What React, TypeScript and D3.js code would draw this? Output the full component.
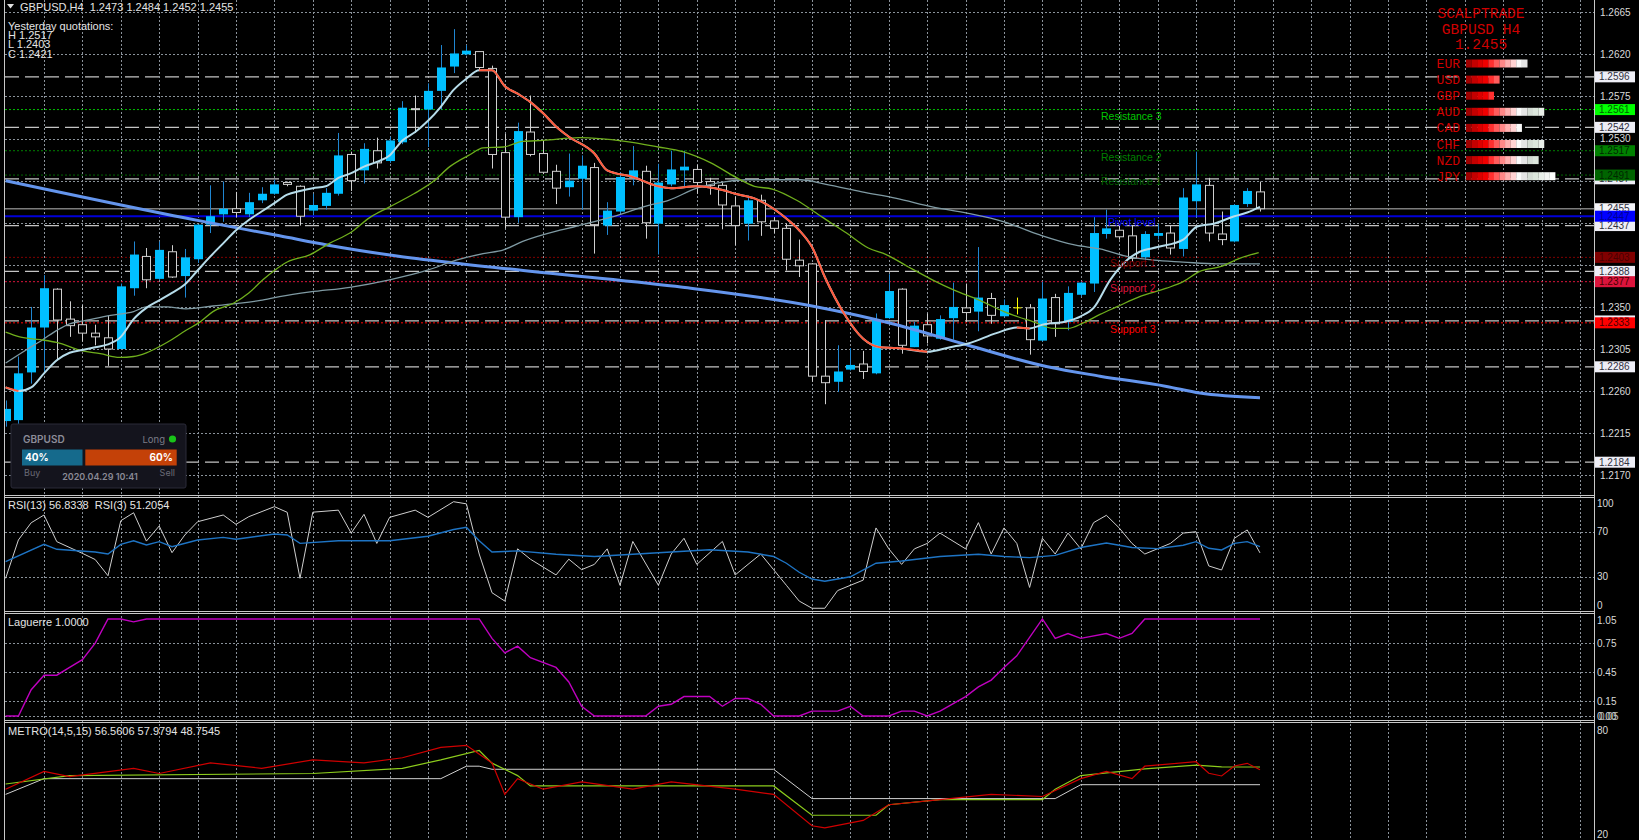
import * as d3 from "d3";

const W = 1639;
const H = 840;

// GBPUSD H4 candles, oldest first
const opens = [1.2228,1.2229,1.2280,1.2328,1.2369,1.2337,1.2331,1.2322,1.2317,1.2305,1.2370,1.2404,1.2380,1.2409,1.2383,1.2401,1.2438,1.2449,1.2455,1.2449,1.2464,1.2471,1.2483,1.2479,1.2453,1.2458,1.2471,1.2513,1.2496,1.2517,1.2506,1.2526,1.2562,1.2561,1.2581,1.2607,1.2620,1.2623,1.2605,1.2515,1.2446,1.2537,1.2514,1.2495,1.2478,1.2487,1.2499,1.2437,1.2452,1.2488,1.2495,1.2439,1.2481,1.2496,1.2497,1.2484,1.2480,1.2458,1.2439,1.2464,1.2442,1.2434,1.2400,1.2396,1.2276,1.2270,1.2283,1.2289,1.2279,1.2338,1.2369,1.2307,1.2331,1.2316,1.2338,1.2349,1.2345,1.2359,1.2340,1.2349,1.2349,1.2314,1.2360,1.2334,1.2363,1.2375,1.2428,1.2432,1.2426,1.2403,1.2426,1.2429,1.2412,1.2463,1.2480,1.2428,1.2420,1.2460,1.2473];
const highs = [1.2250,1.2297,1.2350,1.2384,1.2370,1.2356,1.2352,1.2331,1.2341,1.2375,1.2420,1.2413,1.2420,1.2416,1.2412,1.2438,1.2480,1.2484,1.2473,1.2472,1.2478,1.2486,1.2484,1.2480,1.2471,1.2477,1.2536,1.2516,1.2525,1.2531,1.2532,1.2570,1.2576,1.2589,1.2630,1.2647,1.2630,1.2623,1.2608,1.2535,1.2547,1.2576,1.2528,1.2502,1.2514,1.2512,1.2504,1.2462,1.2494,1.2522,1.2501,1.2503,1.2517,1.2517,1.2502,1.2488,1.2483,1.2468,1.2469,1.2470,1.2446,1.2439,1.2422,1.2397,1.2336,1.2309,1.2306,1.2303,1.2343,1.2385,1.2370,1.2334,1.2343,1.2341,1.2376,1.2375,1.2414,1.2365,1.2358,1.2360,1.2353,1.2377,1.2364,1.2372,1.2377,1.2446,1.2454,1.2437,1.2437,1.2431,1.2439,1.2437,1.2477,1.2516,1.2488,1.2452,1.2460,1.2477,1.2484];
const lows = [1.2222,1.2224,1.2268,1.2279,1.2293,1.2318,1.2313,1.2309,1.2287,1.2305,1.2362,1.2370,1.2379,1.2381,1.2360,1.2397,1.2429,1.2441,1.2446,1.2446,1.2461,1.2470,1.2479,1.2437,1.2448,1.2454,1.2469,1.2474,1.2482,1.2498,1.2504,1.2524,1.2536,1.2521,1.2561,1.2600,1.2619,1.2603,1.2498,1.2434,1.2440,1.2511,1.2492,1.2460,1.2468,1.2454,1.2407,1.2427,1.2450,1.2480,1.2423,1.2406,1.2479,1.2479,1.2471,1.2470,1.2433,1.2416,1.2421,1.2426,1.2429,1.2389,1.2382,1.2270,1.2246,1.2259,1.2282,1.2273,1.2278,1.2337,1.2300,1.2307,1.2311,1.2315,1.2315,1.2334,1.2324,1.2332,1.2340,1.2342,1.2299,1.2313,1.2318,1.2325,1.2361,1.2366,1.2423,1.2422,1.2398,1.2400,1.2422,1.2406,1.2404,1.2446,1.2420,1.2416,1.2419,1.2457,1.2452];
const closes = [1.2241,1.2279,1.2328,1.2370,1.2336,1.2330,1.2322,1.2318,1.2305,1.2372,1.2406,1.2379,1.2411,1.2382,1.2403,1.2438,1.2447,1.2455,1.2451,1.2462,1.2471,1.2481,1.2481,1.2447,1.2459,1.2472,1.2512,1.2485,1.2519,1.2504,1.2528,1.2563,1.2561,1.2581,1.2606,1.2621,1.2624,1.2606,1.2513,1.2446,1.2538,1.2513,1.2494,1.2477,1.2485,1.2501,1.2438,1.2453,1.2489,1.2496,1.2440,1.2483,1.2497,1.2500,1.2483,1.2480,1.2459,1.2437,1.2464,1.2441,1.2434,1.2401,1.2394,1.2276,1.2269,1.2281,1.2288,1.2281,1.2336,1.2367,1.2309,1.2330,1.2319,1.2337,1.2350,1.2344,1.2360,1.2341,1.2352,1.2349,1.2315,1.2359,1.2332,1.2365,1.2376,1.2429,1.2434,1.2425,1.2402,1.2428,1.2429,1.2413,1.2467,1.2481,1.2429,1.2422,1.2459,1.2474,1.2455];

// moving averages, [bar, price]
const fastMa = [[0,1.2264],[1,1.2260],[2,1.2264],[3,1.2279],[4,1.2293],[5,1.2301],[6,1.2304],[7,1.2307],[8,1.2310],[9,1.2318],[10,1.2337],[11,1.2349],[12,1.2357],[13,1.2365],[14,1.2374],[15,1.2389],[16,1.2404],[17,1.2418],[18,1.2432],[19,1.2443],[20,1.2452],[21,1.2461],[22,1.2470],[23,1.2474],[24,1.2477],[25,1.2479],[26,1.2488],[27,1.2493],[28,1.2500],[29,1.2505],[30,1.2512],[31,1.2528],[32,1.2537],[33,1.2549],[34,1.2564],[35,1.2582],[36,1.2594],[37,1.2603],[38,1.2603],[39,1.2586],[40,1.2578],[41,1.2569],[42,1.2557],[43,1.2543],[44,1.2532],[46,1.2514],[47,1.2496],[49,1.2489],[51,1.2479],[52,1.2477],[54,1.2479],[56,1.2475],[57,1.2471],[58.5,1.2466],[60,1.2455],[61.3,1.2441],[62,1.2432],[63,1.2414],[64,1.2382],[65.5,1.2343],[67,1.2316],[68.3,1.2307],[69.6,1.2306],[72,1.2302],[73.8,1.2307],[75.2,1.2311],[77.4,1.2322],[79,1.2328],[80,1.2327],[81,1.2331],[83,1.2335],[84,1.2340],[85,1.2349],[86.3,1.2379],[87.6,1.2400],[88.6,1.2409],[90,1.2414],[92,1.2422],[93.1,1.2436],[94.4,1.2439],[96,1.2447],[97,1.2451],[98,1.2457]];
const fastMaDown = [[0,1],[37,72],[79,80]];
const midMa = [[0,1.2323],[1.1,1.2318],[2.7,1.2315],[4,1.2312],[6,1.2303],[7.4,1.2300],[8.9,1.2296],[10,1.2297],[11,1.2301],[12.6,1.2312],[14.1,1.2325],[15.2,1.2334],[16.2,1.2345],[17.8,1.2354],[19,1.2365],[20.1,1.2379],[21,1.2389],[22,1.2398],[23.8,1.2406],[25.3,1.2418],[26.9,1.2429],[28.5,1.2446],[30,1.2457],[31.9,1.2471],[33.4,1.2484],[34.7,1.2500],[36.3,1.2513],[37.3,1.2520],[38.9,1.2521],[40.4,1.2527],[42,1.2528],[44.8,1.2531],[48.4,1.2527],[51,1.2521],[52.9,1.2516],[55.1,1.2504],[57,1.2489],[58.5,1.2479],[59.9,1.2476],[61.8,1.2464],[63.8,1.2446],[65.7,1.2429],[67.4,1.2413],[68.8,1.2406],[70.5,1.2393],[72.4,1.2379],[74.1,1.2368],[76.1,1.2357],[78,1.2345],[80.3,1.2334],[81.9,1.2327],[83,1.2327],[84.2,1.2333],[85.5,1.2342],[86.8,1.2350],[88.6,1.2361],[90.7,1.2370],[92,1.2377],[93.3,1.2388],[94.9,1.2393],[96.4,1.2402],[97.9,1.2408]];
const slowMa = [[0,1.2290],[1.6,1.2304],[2.9,1.2315],[4,1.2325],[5,1.2332],[6.1,1.2335],[8.2,1.2341],[10,1.2345],[11,1.2350],[12.6,1.2350],[14.1,1.2348],[16.2,1.2351],[18.3,1.2354],[19.9,1.2357],[21.4,1.2361],[23.8,1.2366],[26.9,1.2371],[30,1.2379],[32.9,1.2389],[35.2,1.2400],[37.3,1.2407],[38.9,1.2411],[40.4,1.2420],[43.3,1.2432],[44.5,1.2436],[47.3,1.2446],[50.1,1.2458],[51.8,1.2464],[54,1.2477],[56.3,1.2484],[57.9,1.2486],[59.9,1.2486],[62.1,1.2486],[64.1,1.2481],[66.9,1.2473],[69.6,1.2466],[72.4,1.2457],[75.2,1.2450],[78,1.2441],[80.8,1.2427],[83.6,1.2416],[85.5,1.2412],[87.6,1.2404],[89.7,1.2400],[92,1.2398],[94.6,1.2396],[98,1.2396]];
const longMa = [[0,1.2485],[15.2,1.2442],[21.4,1.2426],[25.2,1.2416],[30.3,1.2405],[35,1.2397],[43.3,1.2385],[52.9,1.2371],[63,1.2351],[69.6,1.2331],[75.2,1.2309],[81.4,1.2286],[85.5,1.2276],[90.7,1.2265],[93.3,1.2258],[98,1.2253]];

// horizontal levels
const priceTicks = [1.2665,1.2620,1.2575,1.2530,1.2485,1.2440,1.2395,1.2350,1.2305,1.2260,1.2215,1.2170];
const dashedLevels = [1.2596,1.2542,1.2487,1.2437,1.2388,1.2335,1.2286,1.2184];
const resistLevels = [1.2491,1.2517,1.2561];
const supportLevels = [1.2403,1.2377,1.2333];
const resistNames = ["Resistance 1","Resistance 2","Resistance 3"];
const supportNames = ["Support 1","Support 2","Support 3"];
const pivotLevel = 1.2447;
const bidPrice = 1.2455;

// currency strength
const currencies = ["EUR","USD","GBP","AUD","CAD","CHF","NZD","JPY"];
const strengths = [11,6,5,14,10,14,13,16];

// oscillators, [bar, value]
const rsi13 = [[0,43.4],[3,58.8],[4,54.4],[7,52],[8,50.2],[9,58.8],[10,62],[11,58.2],[12,61.2],[13,56.7],[15,62.7],[17,65],[18,63.3],[21,68],[22,67.1],[23,59.7],[26,62],[30,62],[33,66],[35,72],[36,74],[37,62],[38,52],[40,53],[43,50],[46,48],[49,50],[52,52],[55,54],[58,52],[60,48],[61,42],[62,34],[63,28],[64,26],[66,30],[68,42],[70,44],[73,48],[76,50],[78,48],[80,47],[82,49],[84,56],[86,60],[88,56],[90,55],[92,58],[93,61.2],[94,55.3],[95,53.8],[96,59.7],[97,61.2],[98,56.8]];
const rsi3 = [[0,28.6],[1,62.7],[2,78],[3,84.9],[4,61.2],[6,50.8],[7,45.3],[8,30.9],[9,79.8],[10,86.9],[11,61.7],[12,75.1],[13,51.4],[14,67.1],[15,78.9],[17,84.9],[18,76.6],[19,83.4],[21,92.3],[22,87.3],[23,28.6],[24,87.4],[26,89.2],[27,68.8],[28,85.5],[29,59.6],[30,82.8],[32,89.2],[33,82.8],[35,96.7],[36,94.8],[37,50.2],[38,15.8],[39,8.4],[40,54.8],[41,45.6],[43,31.6],[44,45.6],[45,36.3],[46,41],[47,54.8],[48,22.4],[49,61.4],[51,22.4],[52,50.2],[53,64.2],[54,41],[56,61.4],[57,31.6],[58,41],[59,50.2],[60,36.3],[61,22.4],[62,8.4],[63,2],[64,2],[65,17.7],[66,22.4],[67,27],[68,73.4],[69,54.8],[70,41],[71,54.8],[72,59.6],[73,68.8],[75,54.8],[76,78.1],[77,50.2],[78,73.4],[79,59.6],[80,20.5],[81,64.2],[82,50.2],[83,68.8],[84,54.8],[85,78.1],[86,84.6],[87,73.4],[88,59.6],[89,50.2],[91,59.6],[92,68.8],[93,70],[94,39.6],[95,36],[96,64.2],[97,71.6],[98,51.2]];
const rsiTicks = [100,70,30,0];
const laguerre = [[0,0],[1,0],[2,0.27],[3,0.42],[4,0.42],[5,0.5],[6,0.58],[7,0.75],[8,1],[9,1],[10,0.97],[11,1],[37,1],[38,0.8],[39,0.65],[40,0.72],[41,0.6],[43,0.5],[44,0.35],[45,0.1],[46,0],[50,0],[51,0.1],[52,0.12],[53,0.2],[55,0.2],[56,0.1],[57,0.18],[58,0.18],[59,0.12],[60,0],[62,0],[63,0.05],[65,0.05],[66,0.1],[67,0],[69,0],[70,0.05],[71,0.05],[72,0],[73,0.05],[75,0.2],[76,0.3],[77,0.37],[78,0.5],[79,0.62],[81,1],[82,0.8],[83,0.85],[84,0.8],[86,0.85],[87,0.8],[88,0.85],[89,1],[98,1]];
const lagTicks = [1.05,0.75,0.45,0.15,0];
const metroRed = [[0,46.4],[3,55.7],[5,53],[10,57.3],[12,54.6],[16,60.1],[20,57.3],[24,61.7],[28,60.1],[31,62.8],[34,68.2],[36,69.3],[38,60.1],[39,43.7],[40,51.9],[42,46.4],[45,50.2],[49,46.4],[52,50.2],[57,46.4],[60,43.7],[63,27.3],[64,26.2],[67,30.1],[69,38.3],[73,41],[77,43.7],[81,42.6],[84,51.9],[86,55.7],[88,51.9],[89,58.4],[93,60.75],[94,54.7],[95,53.3],[96,58.5],[97,59.9],[98,56.56]];
const metroGreen = [[0,49.1],[5,53.5],[24,54.6],[31,57.3],[34,61.7],[37,66.6],[38,60],[40,53.5],[41,48.1],[60,48.1],[63,32.8],[68,32.8],[69,38.3],[73,41],[81,41],[82,46.4],[84,53.5],[89,57],[93,59],[95,58],[98,57.98]];
const metroWhite = [[0,43.7],[3,51.9],[34,51.9],[36,58.4],[37,58.4],[38,56.8],[60,56.8],[63,41.5],[82,41.5],[84,48.75],[98,48.75]];
const metroTicks = [80,20];

const GRID = "#8a929a";
const FONT = "'Liberation Sans', Arial, sans-serif";
const MONO = "'Liberation Mono', 'Courier New', monospace";
const UI = "Inter, 'Noto Sans', sans-serif";

export default function App() {
  const x = d3.scaleLinear().domain([0, 98]).range([5.6, 1260]);
  const yMain = d3.scaleLinear().domain([1.2170, 1.2665]).range([475.3, 12.3]);
  const yRsi = d3.scaleLinear().domain([0, 100]).range([610.5, 498]);
  const yLag = d3.scaleLinear().domain([-0.05, 1.05]).range([720.8, 614.1]);
  const yMet = d3.scaleLinear().domain([20, 80]).range([839.8, 724.8]);

  const mkLine = (y: d3.ScaleLinear<number, number>, curve = d3.curveLinear) =>
    d3.line<number[]>().x((d) => x(d[0])).y((d) => y(d[1])).curve(curve);
  const maLine = mkLine(yMain, d3.curveMonotoneX);

  const gridBars = d3.range(3, 124, 3);
  const axisX = 1594;

  // price labels on the axis that would sit fully under a level box are not drawn
  const boxYs = [...dashedLevels, ...resistLevels, ...supportLevels, pivotLevel, bidPrice].map((p) => yMain(p));
  const visibleTicks = priceTicks.filter((t) => {
    const yy = yMain(t);
    const above = boxYs.some((b) => b <= yy && yy - b < 8);
    const below = boxYs.some((b) => b > yy && b - yy < 8);
    return !(above && below);
  });

  const priceBox = (p: number, bg: string, fg: string, key: string) => {
    const yy = yMain(p);
    return (
      <g key={key}>
        <rect x={1595} y={yy - 5.5} width={40} height={11} fill={bg} />
        <text x={1599} y={yy + 3.6} fill={fg} fontSize={10}>{p.toFixed(4)}</text>
      </g>
    );
  };

  const resistColors = ["#006400", "#008000", "#00c000"];
  const resistBox = ["#006400", "#008000", "#00ff00"];
  const supportColors = ["#800000", "#dc143c", "#ff0000"];
  const strengthColors = ["#a00000","#c40000","#dc0000","#f00000","#ff3030","#ff5c5c","#ff8888","#ffb0b0","#ffd2d2","#fafafa","#e4e4e4","#d4dcd4","#dce6dc","#e8eee8","#f2f4f2","#ffffff"];

  return (
    <>
      <style>{`html,body{margin:0;padding:0;background:#000;}`}</style>
      <svg width={W} height={H} style={{ display: "block", background: "#000" }} fontFamily={FONT}>
        <defs>
          <clipPath id="clipMain"><rect x={5} y={0} width={axisX - 5} height={495} /></clipPath>
          <clipPath id="clipRsi"><rect x={5} y={497} width={axisX - 5} height={114} /></clipPath>
          <clipPath id="clipLag"><rect x={5} y={613} width={axisX - 5} height={107} /></clipPath>
          <clipPath id="clipMet"><rect x={5} y={722} width={axisX - 5} height={118} /></clipPath>
        </defs>

        {/* vertical grid */}
        {gridBars.map((b) => (
          <line key={"vg" + b} x1={Math.round(x(b)) + 0.5} x2={Math.round(x(b)) + 0.5} y1={0} y2={H}
            stroke={GRID} strokeDasharray="2 2" />
        ))}

        {/* main horizontal grid */}
        {priceTicks.map((t) => (
          <line key={"hg" + t} x1={5} x2={axisX} y1={Math.round(yMain(t)) + 0.5} y2={Math.round(yMain(t)) + 0.5}
            stroke={GRID} strokeDasharray="2 2" />
        ))}

        <g clipPath="url(#clipMain)">
          {dashedLevels.map((p) => (
            <line key={"dl" + p} x1={5} x2={axisX} y1={yMain(p)} y2={yMain(p)} stroke="#c4c4c4" strokeWidth={1.2} strokeDasharray="14 6" />
          ))}
          {resistLevels.map((p, i) => (
            <line key={"rl" + p} x1={5} x2={axisX} y1={yMain(p)} y2={yMain(p)} stroke={resistColors[i]} strokeDasharray="2 2" />
          ))}
          {supportLevels.map((p, i) => (
            <line key={"sl" + p} x1={5} x2={axisX} y1={yMain(p)} y2={yMain(p)} stroke={supportColors[i]} strokeDasharray="2 2" />
          ))}
          <line x1={5} x2={axisX} y1={yMain(bidPrice)} y2={yMain(bidPrice)} stroke="#7c7c7c" strokeWidth={1.5} />
          <line x1={5} x2={axisX} y1={yMain(pivotLevel)} y2={yMain(pivotLevel)} stroke="#0000d8" strokeWidth={2} />

          {/* candles */}
          {opens.map((o, i) => {
            const c = closes[i];
            const cx = Math.round(x(i)) + 0.5;
            const yH = yMain(highs[i]);
            const yL = yMain(lows[i]);
            const yO = yMain(o);
            const yC = yMain(c);
            if (c === o) {
              return (
                <g key={"c" + i} stroke="#ffff00">
                  <line x1={cx} x2={cx} y1={yH} y2={yL} />
                  <line x1={cx - 4} x2={cx + 4} y1={yO} y2={yO} />
                </g>
              );
            }
            if (c > o) {
              return (
                <g key={"c" + i}>
                  <line x1={cx} x2={cx} y1={yH} y2={yL} stroke="#1f86d2" />
                  <rect x={cx - 4.5} y={yC} width={9} height={Math.max(1, yO - yC)} fill="#00bfff" />
                </g>
              );
            }
            return (
              <g key={"c" + i}>
                <line x1={cx} x2={cx} y1={yH} y2={yL} stroke="#cfcfcf" />
                <rect x={cx - 4} y={yO} width={8} height={Math.max(1, yC - yO)} fill="#000" stroke="#cfcfcf" />
              </g>
            );
          })}

          {/* moving averages */}
          <path d={maLine(longMa) ?? ""} fill="none" stroke="#6495ed" strokeWidth={3} />
          <path d={maLine(slowMa) ?? ""} fill="none" stroke="#7f9aa3" strokeWidth={1.3} />
          <path d={maLine(midMa) ?? ""} fill="none" stroke="#6fae1c" strokeWidth={1.3} />
          <path d={maLine(fastMa) ?? ""} fill="none" stroke="#b6dcea" strokeWidth={2} />
          {fastMaDown.map(([a, b]) => (
            <path key={"fd" + a} d={maLine(fastMa.filter((d) => d[0] >= a && d[0] <= b)) ?? ""} fill="none" stroke="#ff5a3c" strokeWidth={2} />
          ))}

          {/* pivot labels */}
          {resistNames.map((n, i) => (
            <text key={n} x={1101} y={yMain(resistLevels[i]) + 10} fill={i === 2 ? "#00c800" : resistColors[i]} fontSize={10.5}>{n}</text>
          ))}
          <text x={1108} y={yMain(pivotLevel) + 10} fill="#0000ff" fontSize={10.5}>Pivot level</text>
          {supportNames.map((n, i) => (
            <text key={n} x={1110} y={yMain(supportLevels[i]) + 10} fill={supportColors[i]} fontSize={10.5}>{n}</text>
          ))}
        </g>

        {/* header */}
        <path d="M7,4 L14,4 L10.5,8.5 Z" fill="#e0e0e0" />
        <text x={20} y={10.5} fill="#e4e4e4" fontSize={11} xmlSpace="preserve" style={{ whiteSpace: "pre" }}>GBPUSD,H4  1.2473 1.2484 1.2452 1.2455</text>
        <g fill="#e4e4e4" fontSize={11}>
          <text x={8} y={29.5}>Yesterday quotations:</text>
          <text x={8} y={38.5}>H 1.2517</text>
          <text x={8} y={48}>L 1.2403</text>
          <text x={8} y={57.5}>C 1.2421</text>
        </g>

        {/* scalptrade currency strength */}
        <g fill="#d00000" fontFamily={MONO} textAnchor="middle" fontSize={14.5}>
          <text x={1481} y={18}>SCALPTRADE</text>
          <text x={1481} y={34}>GBPUSD H4</text>
          <text x={1481} y={49}>1.2455</text>
        </g>
        {currencies.map((cur, i) => {
          const cy = 63.5 + i * 16.1;
          return (
            <g key={cur}>
              <text x={1460} y={cy + 4.5} fill="#d00000" fontFamily={MONO} fontSize={13} textAnchor="end">{cur}</text>
              {d3.range(strengths[i]).map((k) => (
                <rect key={k} x={1466 + k * 5.58} y={cy - 4} width={5.7} height={8} fill={strengthColors[k]} />
              ))}
            </g>
          );
        })}

        {/* price axis */}
        {visibleTicks.map((t) => (
          <text key={"pt" + t} x={1600} y={yMain(t) + 3.6} fill="#dadada" fontSize={10}>{t.toFixed(4)}</text>
        ))}
        {dashedLevels.map((p) => priceBox(p, "#eeeef6", "#303040", "db" + p))}
        {priceBox(bidPrice, "#f4f4f8", "#303040", "bid")}
        {priceBox(pivotLevel, "#0000ff", "#000090", "piv")}
        {resistLevels.map((p, i) => priceBox(p, resistBox[i], i === 2 ? "#006000" : "#002800", "rb" + p))}
        {supportLevels.map((p, i) => priceBox(p, supportColors[i], "#4a0000", "sb" + p))}

        {/* sentiment widget */}
        <g fontFamily={UI}>
          <rect x={11} y={424} width={175} height={64} rx={2} fill="#14141d" stroke="#2a2a38" />
          <text x={23} y={442.5} fill="#8c8c98" fontSize={10} fontWeight={600}>GBPUSD</text>
          <text x={165} y={442.5} fill="#7c7c88" fontSize={9.5} textAnchor="end">Long</text>
          <circle cx={172.5} cy={439} r={3.6} fill="#19c419" />
          <rect x={22} y={449.5} width={60.5} height={16} fill="#156a8c" />
          <rect x={85.3} y={449.5} width={91.4} height={16} fill="#c44108" />
          <text x={25} y={461} fill="#ffffff" fontSize={10} fontWeight={700}>40%</text>
          <text x={173} y={461} fill="#ffffff" fontSize={10} fontWeight={700} textAnchor="end">60%</text>
          <text x={24} y={476} fill="#6a6a76" fontSize={9}>Buy</text>
          <text x={175} y={476} fill="#6a6a76" fontSize={9} textAnchor="end">Sell</text>
          <text x={100} y={480} fill="#8a8a96" fontSize={9} fontWeight={600} textAnchor="middle">2020.04.29 10:41</text>
        </g>

        {/* RSI panel */}
        {[70, 30].map((t) => (
          <line key={"rg" + t} x1={5} x2={axisX} y1={Math.round(yRsi(t)) + 0.5} y2={Math.round(yRsi(t)) + 0.5} stroke={GRID} strokeDasharray="2 2" />
        ))}
        <g clipPath="url(#clipRsi)">
          <path d={mkLine(yRsi)(rsi3) ?? ""} fill="none" stroke="#cfcfcf" strokeWidth={1} />
          <path d={mkLine(yRsi)(rsi13) ?? ""} fill="none" stroke="#1e74c4" strokeWidth={1.4} />
        </g>
        <text x={8} y={509} fill="#e4e4e4" fontSize={11} xmlSpace="preserve" style={{ whiteSpace: "pre" }}>RSI(13) 56.8338  RSI(3) 51.2054</text>
        {rsiTicks.map((t) => (
          <text key={"rt" + t} x={1597} y={Math.min(605, Math.max(503, yRsi(t))) + 3.6} fill="#dadada" fontSize={10}>{t}</text>
        ))}

        {/* Laguerre panel */}
        {lagTicks.slice(1).map((t) => (
          <line key={"lg" + t} x1={5} x2={axisX} y1={Math.round(yLag(t)) + 0.5} y2={Math.round(yLag(t)) + 0.5} stroke={GRID} strokeDasharray="2 2" />
        ))}
        <g clipPath="url(#clipLag)">
          <path d={mkLine(yLag)(laguerre) ?? ""} fill="none" stroke="#c000c0" strokeWidth={1.4} />
        </g>
        <text x={8} y={625.5} fill="#e4e4e4" fontSize={11}>Laguerre 1.0000</text>
        {lagTicks.slice(0, 4).map((t) => (
          <text key={"lt" + t} x={1597} y={Math.max(620, yLag(t)) + 3.6} fill="#dadada" fontSize={10}>{t.toFixed(2)}</text>
        ))}
        <text x={1597} y={719.5} fill="#dadada" fontSize={10}>0.00</text>
        <text x={1599} y={719.5} fill="#bcbcbc" fontSize={10}>0.05</text>

        {/* METRO panel */}
        <g clipPath="url(#clipMet)">
          <path d={mkLine(yMet)(metroWhite) ?? ""} fill="none" stroke="#d0d0d0" strokeWidth={1} />
          <path d={mkLine(yMet)(metroGreen) ?? ""} fill="none" stroke="#8ccc1c" strokeWidth={1.2} />
          <path d={mkLine(yMet)(metroRed) ?? ""} fill="none" stroke="#d00000" strokeWidth={1.2} />
        </g>
        <text x={8} y={735} fill="#e4e4e4" fontSize={11}>METRO(14,5,15) 56.5606 57.9794 48.7545</text>
        {metroTicks.map((t) => (
          <text key={"mt" + t} x={1597} y={(t === 80 ? 730 : 834) + 3.6} fill="#dadada" fontSize={10}>{t}</text>
        ))}

        {/* frame and panel separators */}
        <line x1={4.5} x2={4.5} y1={0} y2={H} stroke="#c8c8c8" />
        <line x1={axisX + 0.5} x2={axisX + 0.5} y1={0} y2={H} stroke="#c8c8c8" />
        {[495, 611, 720].map((s) => (
          <g key={"sep" + s} stroke="#c8c8c8">
            <line x1={4} x2={axisX} y1={s + 0.5} y2={s + 0.5} />
            <line x1={4} x2={axisX} y1={s + 2.5} y2={s + 2.5} />
          </g>
        ))}
      </svg>
    </>
  );
}
